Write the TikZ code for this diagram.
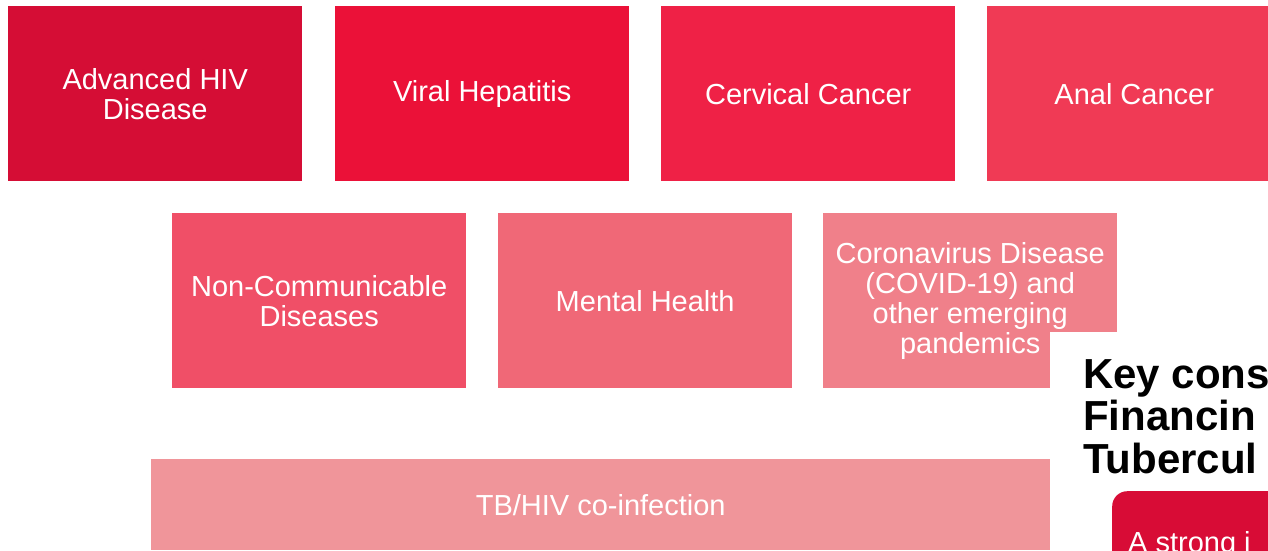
\documentclass[tikz,border=0pt]{standalone}
\usepackage{fontspec}
\setmainfont{Liberation Sans}
\usetikzlibrary{positioning}
\definecolor{hivred}{HTML}{D50D35}
\definecolor{hepred}{HTML}{EB1138}
\definecolor{cervred}{HTML}{EF2146}
\definecolor{analred}{HTML}{F03A55}
\definecolor{ncdred}{HTML}{F04F67}
\definecolor{mentalred}{HTML}{F06877}
\definecolor{covidred}{HTML}{F0808A}
\definecolor{tbred}{HTML}{F0959A}
\definecolor{strongred}{HTML}{D80C36}

\begin{document}
\begin{tikzpicture}
	[x=1pt,y=-1pt,
	topic/.style={rectangle,anchor=north west,inner sep=0pt,minimum width=294pt,minimum height=175pt,text=white,align=center,font=\fontsize{29}{30}\selectfont},
	heading/.style={anchor=base west,inner sep=0pt,font=\fontsize{42}{42.5}\selectfont\bfseries},
	panel/.style={rectangle,anchor=north west,fill=white,inner sep=0pt}]
	\useasboundingbox (0,0) rectangle (1268,550);
	\clip (0,0) rectangle (1268,550);
	% top row
	\node (hiv) at (8,6)     [topic,fill=hivred] {Advanced HIV\\Disease};
	\node (hep) at (335,6)   [topic,fill=hepred] {Viral Hepatitis};
	\node (cerv) at (661,6)  [topic,fill=cervred] {Cervical Cancer};
	\node (anal) at (987,6)  [topic,fill=analred] {Anal Cancer};
	% middle row
	\node (ncd) at (172,213)    [topic,fill=ncdred] {Non-Communicable\\Diseases};
	\node (mental) at (498,213) [topic,fill=mentalred] {Mental Health};
	\node (covid) at (823,213)  [topic,fill=covidred] {Coronavirus Disease\\(COVID-19) and\\other emerging\\pandemics};
	% bottom bar
	\node (tb) at (151,459) [topic,fill=tbred,minimum width=899pt,minimum height=91pt] {TB/HIV co-infection};
	% next slide on top
	\node (page) at (1050,332) [panel,minimum width=230pt,minimum height=230pt] {};
	\node (key) at (1083,388) [heading] {Key cons};
	\node (fin) at (1083,430.5) [heading] {Financin};
	\node (tub) at (1083,473) [heading] {Tubercul};
	\node (strong) at (1112,491) [panel,fill=strongred,rounded corners=15pt,minimum width=200pt,minimum height=100pt] {};
	\node (strongtxt) at (1128,552) [anchor=base west,inner sep=0pt,text=white,font=\fontsize{29}{30}\selectfont] {A strong i};
\end{tikzpicture}
\end{document}
